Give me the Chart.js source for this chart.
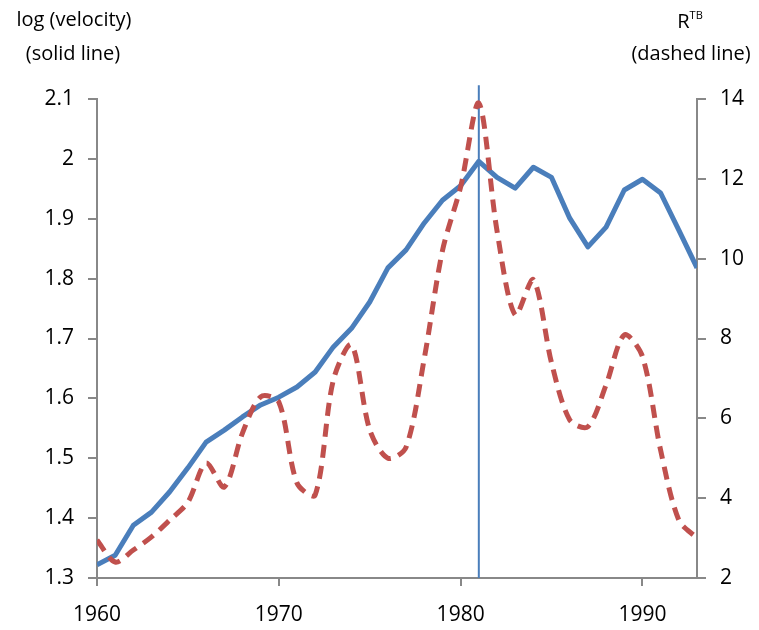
<!DOCTYPE html>
<html>
<head>
<meta charset="utf-8">
<script src="https://cdn.jsdelivr.net/npm/chart.js@4.4.0/dist/chart.umd.min.js"></script>
<style>
  body { margin: 0; background: #fff; }
  #wrap { position: relative; width: 759px; height: 630px; font-family: 'Open Sans', sans-serif; color: #000; }
  .titulo { position: absolute; font-size: 20px; text-align: center; white-space: nowrap; line-height: 1; }
  sup { font-size: 11px; vertical-align: 9px; }
</style>
</head>
<body>
<div id="wrap">
  <canvas id="grafico" width="759" height="630"></canvas>
  <div class="titulo" style="left:0; width:148px; top:9px;">log (velocity)</div>
  <div class="titulo" style="left:0; width:146px; top:43px;">(solid line)</div>
  <div class="titulo" style="left:630px; width:120px; top:9px;">R<sup>TB</sup></div>
  <div class="titulo" style="left:624px; width:134px; top:43px;">(dashed line)</div>
</div>
<script>
// datos
const years = [1960, 1961, 1962, 1963, 1964, 1965, 1966, 1967, 1968, 1969,
  1970, 1971, 1972, 1973, 1974, 1975, 1976, 1977, 1978, 1979,
  1980, 1981, 1982, 1983, 1984, 1985, 1986, 1987, 1988, 1989,
  1990, 1991, 1992, 1993];
const velocity = [1.322, 1.338, 1.388, 1.41, 1.444, 1.484, 1.527, 1.547, 1.569, 1.589,
  1.602, 1.619, 1.644, 1.686, 1.717, 1.761, 1.818, 1.848, 1.893, 1.931,
  1.955, 1.996, 1.969, 1.951, 1.986, 1.969, 1.901, 1.853, 1.886, 1.948,
  1.966, 1.943, 1.881, 1.818];
const rtb = [2.95, 2.4, 2.7, 3.03, 3.45, 3.9, 4.88, 4.28, 5.63, 6.54,
  6.41, 4.38, 4.08, 6.96, 7.84, 5.71, 5.0, 5.28, 7.5, 10.2,
  11.8, 13.9, 10.7, 8.59, 9.47, 7.39, 5.96, 5.79, 6.84, 8.09,
  7.55, 5.2, 3.45, 3.0];
const breakYear = 1981;
const breakLine = [1.3, 2.123]; // linea vertical, sube un poco sobre el eje

const colorEje = '#888888';
const fuenteTicks = { family: "'Open Sans', sans-serif", size: 21 };

const velocidadPts = years.map((yr, i) => ({ x: yr, y: velocity[i] }));
const rtbPts = years.map((yr, i) => ({ x: yr, y: rtb[i] }));
const quiebrePts = breakLine.map(v => ({ x: breakYear, y: v }));

const ctx = document.getElementById('grafico').getContext('2d');
new Chart(ctx, {
  type: 'line',
  data: {
    datasets: [
      {
        label: 'R TB',
        data: rtbPts,
        yAxisID: 'y1',
        borderColor: '#C0504D',
        borderWidth: 5,
        borderDash: [13, 8],
        tension: 0.3,
        pointRadius: 0,
        order: 0
      },
      {
        label: 'log (velocity)',
        data: velocidadPts,
        yAxisID: 'y',
        borderColor: '#4A7EBB',
        borderWidth: 5,
        borderJoinStyle: 'round',
        tension: 0,
        pointRadius: 0,
        order: 1
      },
      {
        label: 'break',
        data: quiebrePts,
        yAxisID: 'y',
        borderColor: '#4A7EBB',
        borderWidth: 2,
        pointRadius: 0,
        clip: false,
        order: 2
      }
    ]
  },
  options: {
    responsive: false,
    animation: false,
    layout: { padding: { top: 99, left: 0, right: 0, bottom: 0 } },
    plugins: {
      legend: { display: false },
      tooltip: { enabled: false }
    },
    scales: {
      x: {
        type: 'linear',
        min: 1960,
        max: 1993,
        ticks: {
          stepSize: 10,
          includeBounds: false,
          color: '#000',
          font: fuenteTicks,
          padding: 16,
          maxRotation: 0,
          callback: v => String(v)
        },
        grid: { drawOnChartArea: false, tickLength: 8, color: colorEje, lineWidth: 2 },
        border: { color: colorEje, width: 2 },
        afterFit: s => { s.height = 52; }
      },
      y: {
        position: 'left',
        min: 1.3,
        max: 2.1,
        ticks: {
          stepSize: 0.1,
          color: '#000',
          font: fuenteTicks,
          padding: 14,
          callback: v => String(parseFloat(v.toFixed(1)))
        },
        grid: { drawOnChartArea: false, tickLength: 9, color: colorEje, lineWidth: 2 },
        border: { color: colorEje, width: 2 },
        afterFit: s => { s.width = 97; }
      },
      y1: {
        position: 'right',
        min: 2,
        max: 14,
        ticks: { stepSize: 2, color: '#000', font: fuenteTicks, padding: 14 },
        grid: { drawOnChartArea: false, tickLength: 9, color: colorEje, lineWidth: 2 },
        border: { color: colorEje, width: 2 },
        afterFit: s => { s.width = 62; }
      }
    }
  }
});
</script>
</body>
</html>
